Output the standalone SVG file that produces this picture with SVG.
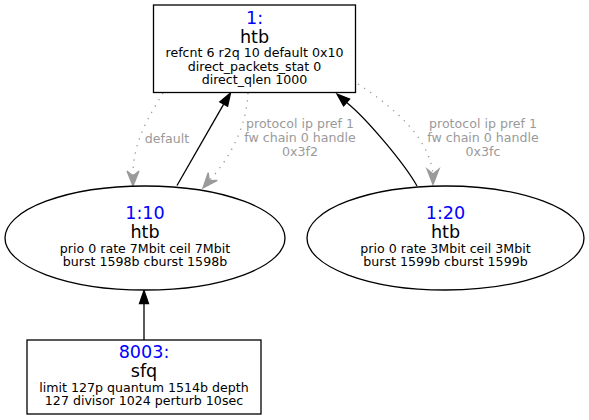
<svg xmlns="http://www.w3.org/2000/svg" width="589" height="420" viewBox="0 0 589 420">
<style>
.node{fill:#ffffff;stroke:#000000;stroke-width:1.3}
text{font-family:"DejaVu Sans","Liberation Sans",sans-serif;text-anchor:middle}
.id{font-size:17.6px;fill:#0000ff}
.kind{font-size:17.6px;fill:#000000}
.det{font-size:12.6px;fill:#000000}
.lbl{font-size:12.6px;fill:#9a9a9a}
.solid{fill:none;stroke:#000000;stroke-width:1.3}
.dot{fill:none;stroke:#9a9a9a;stroke-width:1.3;stroke-dasharray:1.3,6}
.ahs{fill:#000000;stroke:#000000;stroke-width:1.3}
.ahv{fill:#9a9a9a;stroke:#9a9a9a;stroke-width:1.3}
</style>
<rect width="589" height="420" fill="#ffffff"/>
<g id="connectors">
  <!-- 1:10 -> 1: -->
  <path class="solid" d="M177,185.5 L223.7,104.1"/>
  <polygon class="ahs" points="230.5,93 227.6,106.3 219.8,101.9"/>
  <!-- 1:20 -> 1: -->
  <path class="solid" d="M417,186 C404,163 366,118 346.6,102.5"/>
  <polygon class="ahs" points="337,94 349.6,99.1 343.6,105.9"/>
  <!-- 8003: -> 1:10 -->
  <path class="solid" d="M144,340 L144,303.5"/>
  <polygon class="ahs" points="144,290.5 148.5,303.5 139.5,303.5"/>
  <!-- 1: -> 1:10 default -->
  <path class="dot" d="M163,93 C150,115 133,140 133,175"/>
  <polygon class="ahv" points="127,171 133,186 139,171 133,176"/>
  <text class="lbl" x="167" y="143">default</text>
  <!-- 1: -> 1:10 0x3f2 -->
  <path class="dot" d="M248,93 C247,122 233,155 209.3,180.6"/>
  <polygon class="ahv" points="217.3,180.5 203,188 208.2,172.7 209.3,180.6"/>
  <text class="lbl" x="300" y="127.5">protocol ip pref 1</text>
  <text class="lbl" x="300" y="141.5">fw chain 0 handle</text>
  <text class="lbl" x="300" y="155.5">0x3f2</text>
  <!-- 1: -> 1:20 0x3fc -->
  <path class="dot" d="M358,84 C395,108 429,138 433,174"/>
  <polygon class="ahv" points="427,169 433,184.5 439,169 433,174"/>
  <text class="lbl" x="483" y="127.5">protocol ip pref 1</text>
  <text class="lbl" x="483" y="141.5">fw chain 0 handle</text>
  <text class="lbl" x="483" y="155.5">0x3fc</text>
</g>
<g id="node-1">
  <rect class="node" x="153.5" y="5" width="202" height="87.5"/>
  <text class="id" x="254.5" y="24">1:</text>
  <text class="kind" x="254.5" y="42.5">htb</text>
  <text class="det" x="254.5" y="57">refcnt 6 r2q 10 default 0x10</text>
  <text class="det" x="254.5" y="70.5">direct_packets_stat 0</text>
  <text class="det" x="254.5" y="84">direct_qlen 1000</text>
</g>
<g id="node-1-10">
  <ellipse class="node" cx="145" cy="238" rx="140" ry="52"/>
  <text class="id" x="145" y="219">1:10</text>
  <text class="kind" x="145" y="237.5">htb</text>
  <text class="det" x="145" y="252.5">prio 0 rate 7Mbit ceil 7Mbit</text>
  <text class="det" x="145" y="265.5">burst 1598b cburst 1598b</text>
</g>
<g id="node-1-20">
  <ellipse class="node" cx="445.5" cy="238" rx="138.5" ry="52"/>
  <text class="id" x="445.5" y="219">1:20</text>
  <text class="kind" x="445.5" y="237.5">htb</text>
  <text class="det" x="445.5" y="252.5">prio 0 rate 3Mbit ceil 3Mbit</text>
  <text class="det" x="445.5" y="265.5">burst 1599b cburst 1599b</text>
</g>
<g id="node-8003">
  <rect class="node" x="27" y="340" width="234" height="74"/>
  <text class="id" x="144" y="358">8003:</text>
  <text class="kind" x="144" y="376.5">sfq</text>
  <text class="det" x="144" y="392">limit 127p quantum 1514b depth</text>
  <text class="det" x="144" y="404.5">127 divisor 1024 perturb 10sec</text>
</g>
</svg>
